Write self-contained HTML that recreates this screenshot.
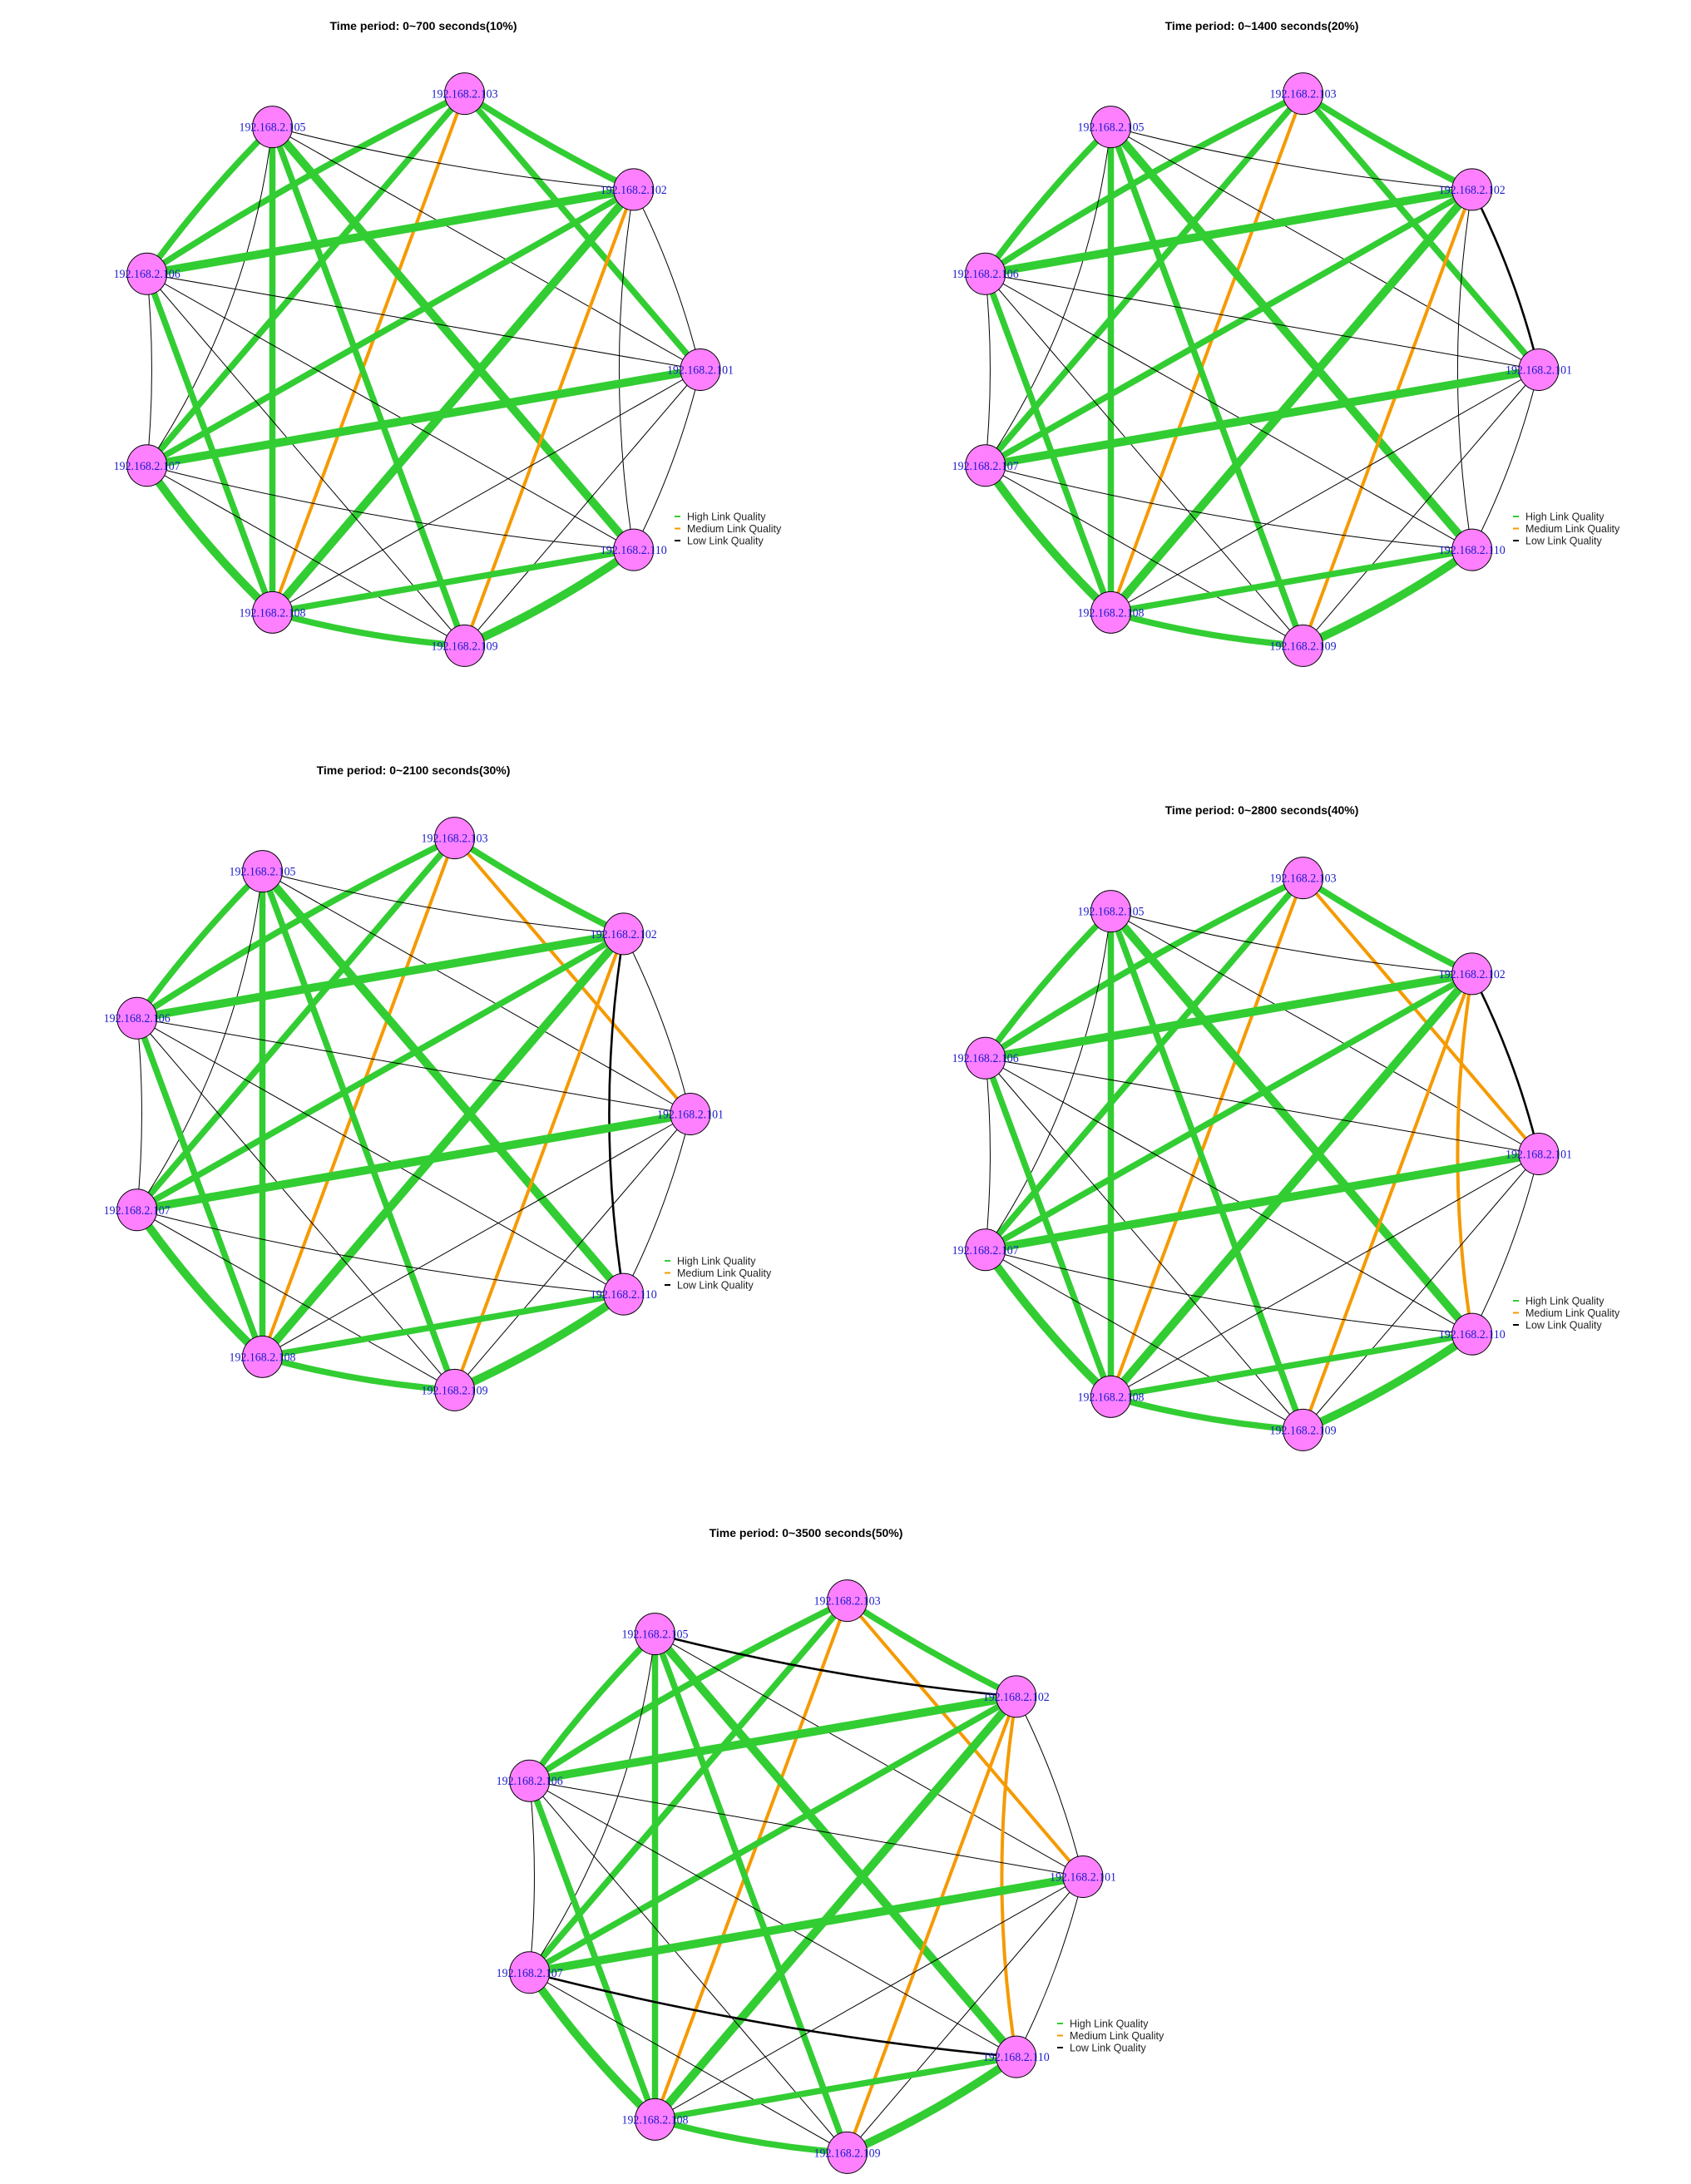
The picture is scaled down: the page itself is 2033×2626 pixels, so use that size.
<!DOCTYPE html>
<html><head><meta charset="utf-8"><style>
html,body{margin:0;padding:0;background:#fff;}
svg{display:block;}
</style></head><body>
<svg id="chart" width="2033" height="2626" viewBox="0 0 2033 2626" xmlns="http://www.w3.org/2000/svg"></svg>
<script>
const nodeNames = ["192.168.2.101","192.168.2.102","192.168.2.103","192.168.2.105","192.168.2.106","192.168.2.107","192.168.2.108","192.168.2.109","192.168.2.110"];
const panelTitles = ["Time period: 0~700 seconds(10%)","Time period: 0~1400 seconds(20%)","Time period: 0~2100 seconds(30%)","Time period: 0~2800 seconds(40%)","Time period: 0~3500 seconds(50%)"];
const legendLabels = ["High Link Quality","Medium Link Quality","Low Link Quality"];
// edges: [from, to, quality]  quality: H high, H2 high(strong), M medium, L low, L2 low(strong)
const edges1 = [
["103","106","H"],["103","107","H"],["103","102","H"],["103","101","H"],["103","108","M"],
["105","106","H"],["105","108","H"],["105","109","H"],["105","110","H2"],["105","102","L"],["105","101","L"],["105","107","L"],
["102","106","H2"],["102","107","H"],["102","108","H2"],["102","109","M"],["102","110","L"],["102","101","L"],
["106","107","L"],["106","108","H"],["106","101","L"],["106","110","L"],["106","109","L"],
["101","107","H2"],["101","108","L"],["101","109","L"],["101","110","L"],
["107","108","H2"],["107","110","L"],["107","109","L"],
["108","110","H"],["108","109","H"],["109","110","H2"]];
const edges2 = edges1.map(e => (e[0]==="102"&&e[1]==="101") ? ["102","101","L2"] : e);
const edges3 = edges1.map(e => {
  if(e[0]==="103"&&e[1]==="101") return ["103","101","M"];
  if(e[0]==="102"&&e[1]==="110") return ["102","110","L2"];
  return e;});
const edges4 = edges1.map(e => {
  if(e[0]==="103"&&e[1]==="101") return ["103","101","M"];
  if(e[0]==="102"&&e[1]==="110") return ["102","110","M"];
  if(e[0]==="102"&&e[1]==="101") return ["102","101","L2"];
  return e;});
const edges5 = edges1.map(e => {
  if(e[0]==="103"&&e[1]==="101") return ["103","101","M"];
  if(e[0]==="102"&&e[1]==="110") return ["102","110","M"];
  if(e[0]==="105"&&e[1]==="102") return ["105","102","L2"];
  if(e[0]==="107"&&e[1]==="110") return ["107","110","L2"];
  return e;});
const panelEdges = [edges1,edges2,edges3,edges4,edges5];

const NS="http://www.w3.org/2000/svg";
const svg=document.getElementById('chart');
const offsets=[[0,0],[1008,0],[-12,895],[1008,943],[460,1812]];
const styleMap={H:["#32cd32",7.5],H2:["#32cd32",10],M:["#f59a00",4],L:["#000",1],L2:["#000",2.6]};
const curved={"105-107":-0.12,"106-107":-0.05,"102-110":0.08,"102-101":-0.06,"101-110":-0.06,"108-109":0.05,"109-110":0.05,"107-108":0.05,"105-106":0.04,"105-102":0.04,"107-110":0.04,"103-102":0.03,"103-106":0.03};
function pos(name,off){
  const i=nodeNames.indexOf("192.168.2."+name);
  const a=i*40*Math.PI/180;
  return [off[0]+499+343*Math.cos(a), off[1]+444.5-337*Math.sin(a)];
}
function mk(tag,attrs,parent){const el=document.createElementNS(NS,tag);for(const k in attrs)el.setAttribute(k,attrs[k]);parent.appendChild(el);return el;}
panelEdges.forEach((edges,p)=>{
  const off=offsets[p];
  const g=mk('g',{},svg);
  
  
  const t=mk('text',{x:off[0]+509,y:off[1]+36,'text-anchor':'middle','font-family':'Liberation Sans, sans-serif','font-size':'14','font-weight':'bold',fill:'#000'},g);
  t.textContent=panelTitles[p];
  
  
  edges.forEach(e=>{
    const [x1,y1]=pos(e[0],off),[x2,y2]=pos(e[1],off);
    const s=styleMap[e[2]];
    const c=curved[e[0]+"-"+e[1]]||0;
    const mx=(x1+x2)/2,my=(y1+y2)/2,dx=x2-x1,dy=y2-y1;
    const cx=mx-dy*c,cy=my+dx*c;
    const path=mk('path',{d:`M${x1},${y1} Q${cx},${cy} ${x2},${y2}`,stroke:s[0],'stroke-width':s[1],fill:'none'},g);
    
    
  });
  nodeNames.forEach(n=>{
    const [x,y]=pos(n.slice(10),off);
    const el=mk('ellipse',{cx:x,cy:y,rx:24,ry:25,fill:'#ff80ff',stroke:'#000','stroke-width':1},g);
    
    
  });
  nodeNames.forEach(n=>{
    const [x,y]=pos(n.slice(10),off);
    const tx=mk('text',{x:x-40,y:y+5,textLength:80,lengthAdjust:'spacingAndGlyphs','font-family':'Liberation Serif, serif','font-size':'15',fill:'#1a1acc'},g);
    tx.textContent=n;
    
    
  });
  const lg=mk('g',{},g);
  
  
  const lc=["#32cd32","#f59a00","#000"];
  legendLabels.forEach((l,i)=>{
    const ly=off[1]+621+i*14.5;
    const ln=mk('line',{x1:off[0]+811,x2:off[0]+818,y1:ly,y2:ly,stroke:lc[i],'stroke-width':2},lg);
    
    
    const lt=mk('text',{x:off[0]+826,y:ly+4.5,'font-family':'Liberation Sans, sans-serif','font-size':'12.5',fill:'#222'},lg);
    lt.textContent=l;
    
    
  });
});
</script>
</body></html>
